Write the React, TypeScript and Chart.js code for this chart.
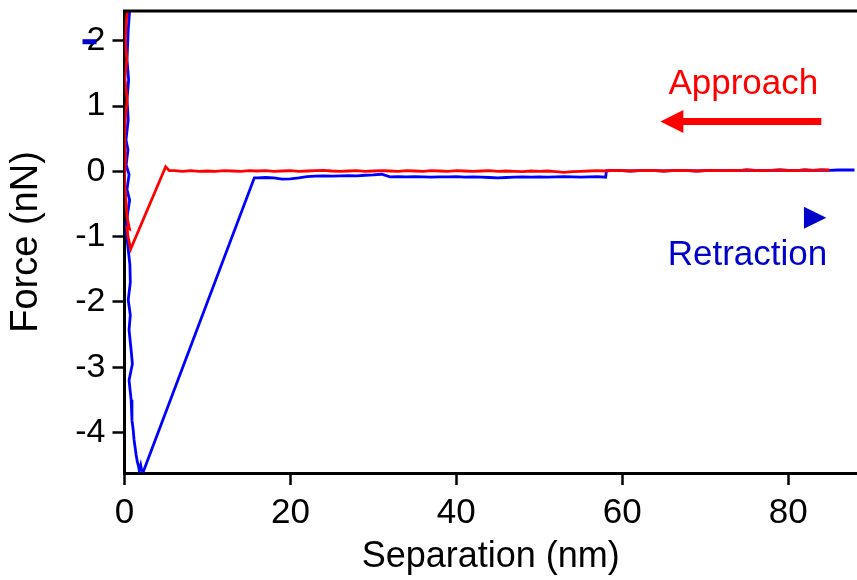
import React, { useEffect, useRef } from "react";
import { Chart, registerables } from "chart.js";

Chart.register(...registerables);

// Approach curve: contact region (top to bottom), jump-to-contact, then baseline
const approachSep = [
  0.45, 0.22, 0.08, 0.28, 0.05, 0.32, 0.1, 0.02, 0.12, 0.0, 0.15, 0.3, 0.6, 0.3, 0.42, 0.75,
  4.96, 5.4,
  6, 7, 8, 9, 10, 11, 12, 13, 14, 15, 16, 17, 18, 19, 20, 21, 22, 23, 24, 25, 26, 27, 28, 29,
  30, 31, 32, 33, 34, 35, 36, 37, 38, 39, 40, 41, 42, 43, 44, 45, 46, 47, 48, 49, 50, 51, 52,
  53, 54, 55, 56, 57, 58, 59, 60, 61, 62, 63, 64, 65, 66, 67, 68, 69, 70, 71, 72, 73, 74, 75,
  76, 77, 78, 79, 80, 81, 82, 83, 84, 85, 86, 87, 88, 88.3,
];
const approachForce = [
  2.6, 2.3, 2.0, 1.72, 1.42, 1.1, 0.8, 0.5, 0.2, -0.1, -0.4, -0.7, -0.88, -0.86, -1.0, -1.19,
  0.07, 0.01,
  0.01, 0.0, 0.01, 0.0, 0.005, 0.0, 0.01, 0.005, 0.0, 0.01, 0.005, 0.01, 0.0, 0.005, 0.01, 0.0,
  0.005, 0.01, 0.015, 0.005, 0.0, 0.005, 0.01, 0.0, 0.005, 0.01, 0.005, 0.0, 0.01, 0.005, 0.0,
  0.01, 0.005, 0.0, 0.01, 0.005, 0.0, 0.005, 0.01, 0.0, 0.005, 0.0, -0.005, 0.005, 0.0, 0.005,
  -0.005, -0.015, -0.005, 0.0, 0.005, 0.01, 0.005, 0.015, 0.01, 0.005, 0.01, 0.015, 0.01, 0.005,
  0.01, 0.015, 0.01, 0.005, 0.01, 0.015, 0.01, 0.015, 0.01, 0.02, 0.015, 0.01, 0.015, 0.02,
  0.015, 0.01, 0.02, 0.015, 0.02, 0.02,
];

// Retraction curve: contact region, adhesion minimum, snap-off, then baseline
const retractSep = [
  0.7, 0.45, 0.3, 0.5, 0.3, 0.45, 0.18, 0.42, 0.2, 0.55, 0.3, 0.62, 0.35, 0.2, 0.45, 0.65, 0.7,
  0.45, 0.7, 0.55, 0.8, 0.95, 0.55, 0.8, 0.9, 1.05, 1.15, 1.4, 1.55, 1.7, 1.78, 1.95, 2.07, 2.3,
  15.65,
  16, 17, 18, 19, 20, 21, 22, 23, 24, 25, 26, 27, 28, 29, 30, 31, 32, 33, 34, 35, 36, 37, 38,
  39, 40, 41, 42, 43, 44, 45, 46, 47, 48, 49, 50, 51, 52, 53, 54, 55, 56, 57, 58,
  58.1, 59, 60, 61, 62, 63, 64, 65, 66, 67, 68, 69, 70, 71, 72, 73, 74, 75, 76, 77, 78, 79, 80,
  81, 82, 83, 84, 85, 86, 87, 88, 88.3,
];
const retractForce = [
  2.6, 2.17, 1.71, 1.4, 1.1, 0.79, 0.48, 0.33, 0.1, -0.05, -0.28, -0.44, -0.67, -0.9, -1.2,
  -1.43, -1.7, -1.97, -2.2, -2.43, -2.74, -2.95, -3.2, -3.5, -3.81, -3.96, -4.11, -4.34, -4.45,
  -4.52, -4.58, -4.5, -4.58, -4.59,
  -0.1,
  -0.1, -0.095, -0.1, -0.12, -0.115, -0.1, -0.08, -0.075, -0.07, -0.075, -0.07, -0.065, -0.07,
  -0.06, -0.055, -0.045, -0.085, -0.08, -0.085, -0.08, -0.085, -0.09, -0.085, -0.085, -0.08,
  -0.09, -0.085, -0.09, -0.095, -0.1, -0.095, -0.09, -0.085, -0.09, -0.085, -0.09, -0.085,
  -0.08, -0.085, -0.09, -0.085, -0.08, -0.09,
  0.01, 0.015, 0.01, 0.005, 0.01, 0.015, 0.01, 0.005, 0.01, 0.015, 0.01, 0.005, 0.01, 0.015,
  0.01, 0.015, 0.01, 0.02, 0.015, 0.01, 0.015, 0.02, 0.015, 0.01, 0.02, 0.015, 0.02, 0.015,
  0.02, 0.02, 0.02,
];

const xTicks = [0, 20, 40, 60, 80];
const yTicks = [-4, -3, -2, -1, 0, 1, 2];

const FONT = "'Liberation Sans', Arial, sans-serif";
const RED = "#ff0000";
const BLUE = "#0000ff";
const DARK_BLUE = "#0000cc";

// Placement of the in-plot notes, in data units
const approachLabel = { x: 74.6, y: 1.19 };
const approachArrow = { from: 84.0, to: 64.6, y: 0.763 };
const retractLabel = { x: 75.1, y: -1.43 };
const retractMarker = { from: 81.9, to: 84.6, y: -0.71 };

const notesPlugin = {
  id: "notes",
  afterDraw(chart: any) {
    const { ctx, chartArea, scales } = chart;
    const xs = scales.x;
    const ys = scales.y;
    ctx.save();

    // top frame line
    ctx.strokeStyle = "#000";
    ctx.lineWidth = 3;
    ctx.beginPath();
    ctx.moveTo(chartArea.left - 1.5, chartArea.top);
    ctx.lineTo(chartArea.right, chartArea.top);
    ctx.stroke();

    // "Approach" with arrow pointing left
    ctx.font = `35px ${FONT}`;
    ctx.textAlign = "center";
    ctx.textBaseline = "alphabetic";
    ctx.fillStyle = RED;
    ctx.fillText("Approach", xs.getPixelForValue(approachLabel.x), ys.getPixelForValue(approachLabel.y));

    const ay = ys.getPixelForValue(approachArrow.y);
    const tip = xs.getPixelForValue(approachArrow.to);
    const tail = xs.getPixelForValue(approachArrow.from);
    ctx.strokeStyle = RED;
    ctx.lineWidth = 7;
    ctx.beginPath();
    ctx.moveTo(tail, ay);
    ctx.lineTo(tip + 20, ay);
    ctx.stroke();
    ctx.beginPath();
    ctx.moveTo(tip, ay);
    ctx.lineTo(tip + 23, ay - 11.5);
    ctx.lineTo(tip + 23, ay + 11.5);
    ctx.closePath();
    ctx.fill();

    // "Retraction" with marker pointing right
    ctx.fillStyle = DARK_BLUE;
    ctx.fillText("Retraction", xs.getPixelForValue(retractLabel.x), ys.getPixelForValue(retractLabel.y));
    const my = ys.getPixelForValue(retractMarker.y);
    const m0 = xs.getPixelForValue(retractMarker.from);
    const m1 = xs.getPixelForValue(retractMarker.to);
    ctx.beginPath();
    ctx.moveTo(m0, my - 11);
    ctx.lineTo(m1, my);
    ctx.lineTo(m0, my + 11);
    ctx.closePath();
    ctx.fill();

    // small blue dash beside the top tick label
    const y2 = ys.getPixelForValue(2);
    ctx.fillRect(chartArea.left - 42, y2 - 1.5, 14, 5);

    ctx.restore();
  },
};

export default function App() {
  const canvasRef = useRef<HTMLCanvasElement | null>(null);

  useEffect(() => {
    const canvas = canvasRef.current;
    if (!canvas) return;
    const toPoints = (xs: number[], ys: number[]) => xs.map((x, i) => ({ x, y: ys[i] }));

    const chart = new Chart(canvas, {
      type: "scatter",
      data: {
        datasets: [
          {
            label: "Approach",
            data: toPoints(approachSep, approachForce),
            showLine: true,
            borderColor: RED,
            backgroundColor: RED,
            borderWidth: 2.8,
            pointRadius: 0,
            tension: 0,
          },
          {
            label: "Retraction",
            data: toPoints(retractSep, retractForce),
            showLine: true,
            borderColor: BLUE,
            backgroundColor: BLUE,
            borderWidth: 2.8,
            pointRadius: 0,
            tension: 0,
          },
        ],
      },
      options: {
        animation: false,
        responsive: false,
        maintainAspectRatio: false,
        layout: { padding: { top: 11, right: 0, left: 0, bottom: 0 } },
        plugins: {
          legend: { display: false },
          tooltip: { enabled: false },
        },
        scales: {
          x: {
            type: "linear",
            min: 0,
            max: 88.3,
            afterFit: (s: any) => {
              s.height = 107;
              s.paddingLeft = 0;
              s.paddingRight = 0;
            },
            afterBuildTicks: (s: any) => {
              s.ticks = xTicks.map((v) => ({ value: v }));
            },
            ticks: {
              font: { family: FONT, size: 35 },
              color: "#000",
              padding: 7,
              maxRotation: 0,
              autoSkip: false,
            },
            grid: {
              drawOnChartArea: false,
              tickLength: 12,
              tickWidth: 2.5,
              tickColor: "#000",
            },
            border: { width: 3, color: "#000" },
            title: {
              display: true,
              text: "Separation (nm)",
              font: { family: FONT, size: 36 },
              color: "#000",
              padding: { top: 0, bottom: 1 },
            },
          },
          y: {
            type: "linear",
            min: -4.62,
            max: 2.455,
            afterFit: (s: any) => {
              s.width = 124.5;
              s.paddingTop = 0;
              s.paddingBottom = 0;
            },
            afterBuildTicks: (s: any) => {
              s.ticks = yTicks.map((v) => ({ value: v }));
            },
            ticks: {
              font: { family: FONT, size: 34 },
              color: "#000",
              padding: 7,
              autoSkip: false,
              callback: (v: any) => String(v),
            },
            grid: {
              drawOnChartArea: false,
              tickLength: 12,
              tickWidth: 2.5,
              tickColor: "#000",
            },
            border: { width: 3, color: "#000" },
            title: {
              display: true,
              text: "Force (nN)",
              font: { family: FONT, size: 38 },
              color: "#000",
              padding: { top: 4, bottom: 0 },
            },
          },
        },
      },
      plugins: [notesPlugin],
    });

    return () => chart.destroy();
  }, []);

  return (
    <div style={{ position: "fixed", left: 0, top: 0, width: 857, height: 580, background: "#fff" }}>
      <canvas ref={canvasRef} width={857} height={580} style={{ display: "block" }} />
    </div>
  );
}
